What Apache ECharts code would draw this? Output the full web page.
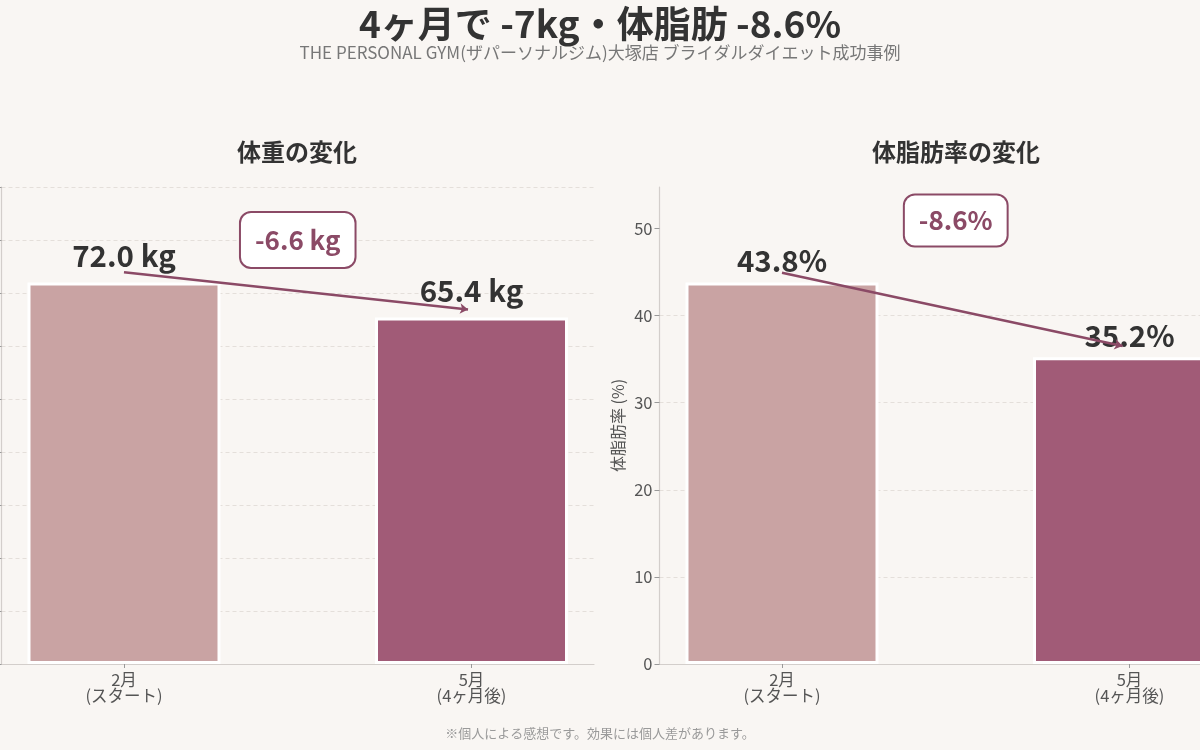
<!DOCTYPE html>
<html>
<head>
<meta charset="utf-8">
<script src="https://cdn.jsdelivr.net/npm/echarts@6/dist/echarts.min.js"></script>
<style>
  html, body { margin: 0; padding: 0; background: #f9f6f3; }
  #chart { width: 1200px; height: 750px; }
</style>
</head>
<body>
<div id="chart"></div>
<script>
// データ
const months = ["2月\n(スタート)", "5月\n(4ヶ月後)"];
const weight = [72.0, 65.4];
const bodyFat = [43.8, 35.2];
const weightTicks = [0, 10, 20, 30, 40, 50, 60, 70, 80, 90];
const fatTicks = [0, 10, 20, 30, 40, 50];

// 注釈（矢印・差分ボックス）のデータ座標
const weightArrow = [[0, 73.9], [0.99, 66.9]];
const fatArrow = [[0, 44.9], [0.98, 36.5]];
const weightBox = [0.5, 80];
const fatBox = [0.5, 50.9];

const FONT = "Noto Sans CJK JP";
const ACCENT = "#8b4a66";
const barColors = ["#c9a3a3", "#a15b77"];

const weightDiff = (weight[1] - weight[0]).toFixed(1) + " kg";
const fatDiff = (bodyFat[1] - bodyFat[0]).toFixed(1) + "%";

const myChart = echarts.init(document.getElementById("chart"));

function xAxisFor(gridIndex) {
  return {
    type: "value",
    gridIndex: gridIndex,
    min: -0.3525,
    max: 1.3525,
    axisLine: { show: true, onZero: false, lineStyle: { color: "#d3cecb", width: 1.2 } },
    axisTick: { show: true, length: 4, lineStyle: { color: "#999" }, customValues: [0, 1] },
    axisLabel: {
      customValues: [0, 1],
      formatter: (v) => months[Math.round(v)],
      color: "#555",
      fontFamily: FONT,
      fontSize: 16.5,
      lineHeight: 16,
      margin: 8,
    },
    splitLine: { show: false },
  };
}

function yAxisFor(gridIndex, max, ticks, name) {
  return {
    type: "value",
    gridIndex: gridIndex,
    min: 0,
    max: max,
    interval: 10,
    name: name,
    nameLocation: "middle",
    nameGap: 34,
    nameTextStyle: { color: "#555", fontFamily: FONT, fontSize: 16 },
    axisLine: { show: true, onZero: false, lineStyle: { color: "#d3cecb", width: 1.2 } },
    axisTick: { show: true, length: 5, lineStyle: { color: "#999" }, customValues: ticks },
    axisLabel: {
      customValues: ticks,
      color: "#555",
      fontFamily: FONT,
      fontSize: 16.5,
      margin: 7,
    },
    splitLine: {
      show: true,
      showMaxLine: ticks[ticks.length - 1] === max,
      lineStyle: { color: "#e4dfda", type: [4, 3], width: 1 },
    },
  };
}

function barSeries(idx, values, fmt, dist) {
  return {
    type: "bar",
    xAxisIndex: idx,
    yAxisIndex: idx,
    barWidth: 193,
    data: values.map((v, i) => ({
      value: [i, v],
      itemStyle: { color: barColors[i], borderColor: "#fff", borderWidth: 3 },
    })),
    label: {
      show: true,
      position: "top",
      distance: dist,
      formatter: (p) => fmt(p.value[1]),
      color: "#333",
      fontFamily: FONT,
      fontWeight: "bold",
      fontSize: 29.5,
    },
  };
}

function annotation(idx, arrow, box, text, padV) {
  return {
    type: "line",
    xAxisIndex: idx,
    yAxisIndex: idx,
    z: 10,
    data: [],
    silent: true,
    markLine: {
      silent: true,
      symbol: ["none", "arrow"],
      symbolSize: 8,
      label: { show: false },
      lineStyle: { color: ACCENT, width: 2.5, type: "solid" },
      data: [[{ coord: arrow[0] }, { coord: arrow[1] }]],
    },
    markPoint: {
      silent: true,
      symbol: "rect",
      symbolSize: 1,
      itemStyle: { color: "rgba(0,0,0,0)" },
      label: {
        show: true,
        position: "inside",
        formatter: text,
        color: ACCENT,
        fontFamily: FONT,
        fontWeight: "bold",
        fontSize: 26,
        backgroundColor: "#fff",
        borderColor: ACCENT,
        borderWidth: 2,
        borderRadius: 10,
        padding: [padV, 14, padV, 14],
      },
      data: [{ coord: box }],
    },
  };
}

const option = {
  backgroundColor: "#f9f6f3",
  animation: false,
  textStyle: { fontFamily: FONT },
  title: [
    {
      text: "4ヶ月で -7kg・体脂肪 -8.6%",
      left: "center",
      top: 0,
      textStyle: { fontFamily: FONT, fontSize: 37, fontWeight: "bold", color: "#333" },
    },
    {
      text: "THE PERSONAL GYM(ザパーソナルジム)大塚店 ブライダルダイエット成功事例",
      left: "center",
      top: 39,
      textStyle: { fontFamily: FONT, fontSize: 17, fontWeight: "normal", color: "#777" },
    },
    {
      text: "体重の変化",
      left: 292,
      textAlign: "center",
      top: 135,
      textStyle: { fontFamily: FONT, fontSize: 24, fontWeight: "bold", color: "#333" },
    },
    {
      text: "体脂肪率の変化",
      left: 951,
      textAlign: "center",
      top: 135,
      textStyle: { fontFamily: FONT, fontSize: 24, fontWeight: "bold", color: "#333" },
    },
    {
      text: "※個人による感想です。効果には個人差があります。",
      left: "center",
      top: 722,
      textStyle: { fontFamily: FONT, fontSize: 13, fontWeight: "normal", color: "#9a9a9a" },
    },
  ],
  grid: [
    { left: 1.5, top: 187, width: 592.5, height: 477, containLabel: false, outerBoundsMode: "none" },
    { left: 659.5, top: 187, width: 592.5, height: 477, containLabel: false, outerBoundsMode: "none" },
  ],
  xAxis: [xAxisFor(0), xAxisFor(1)],
  yAxis: [
    yAxisFor(0, 90, weightTicks, "体重 (kg)"),
    yAxisFor(1, 54.75, fatTicks, "体脂肪率 (%)"),
  ],
  series: [
    barSeries(0, weight, (v) => v.toFixed(1) + " kg", 12),
    barSeries(1, bodyFat, (v) => v.toFixed(1) + "%", 7),
    annotation(0, weightArrow, weightBox, weightDiff, 14),
    annotation(1, fatArrow, fatBox, fatDiff, 12),
  ],
};

myChart.setOption(option);
</script>
</body>
</html>
